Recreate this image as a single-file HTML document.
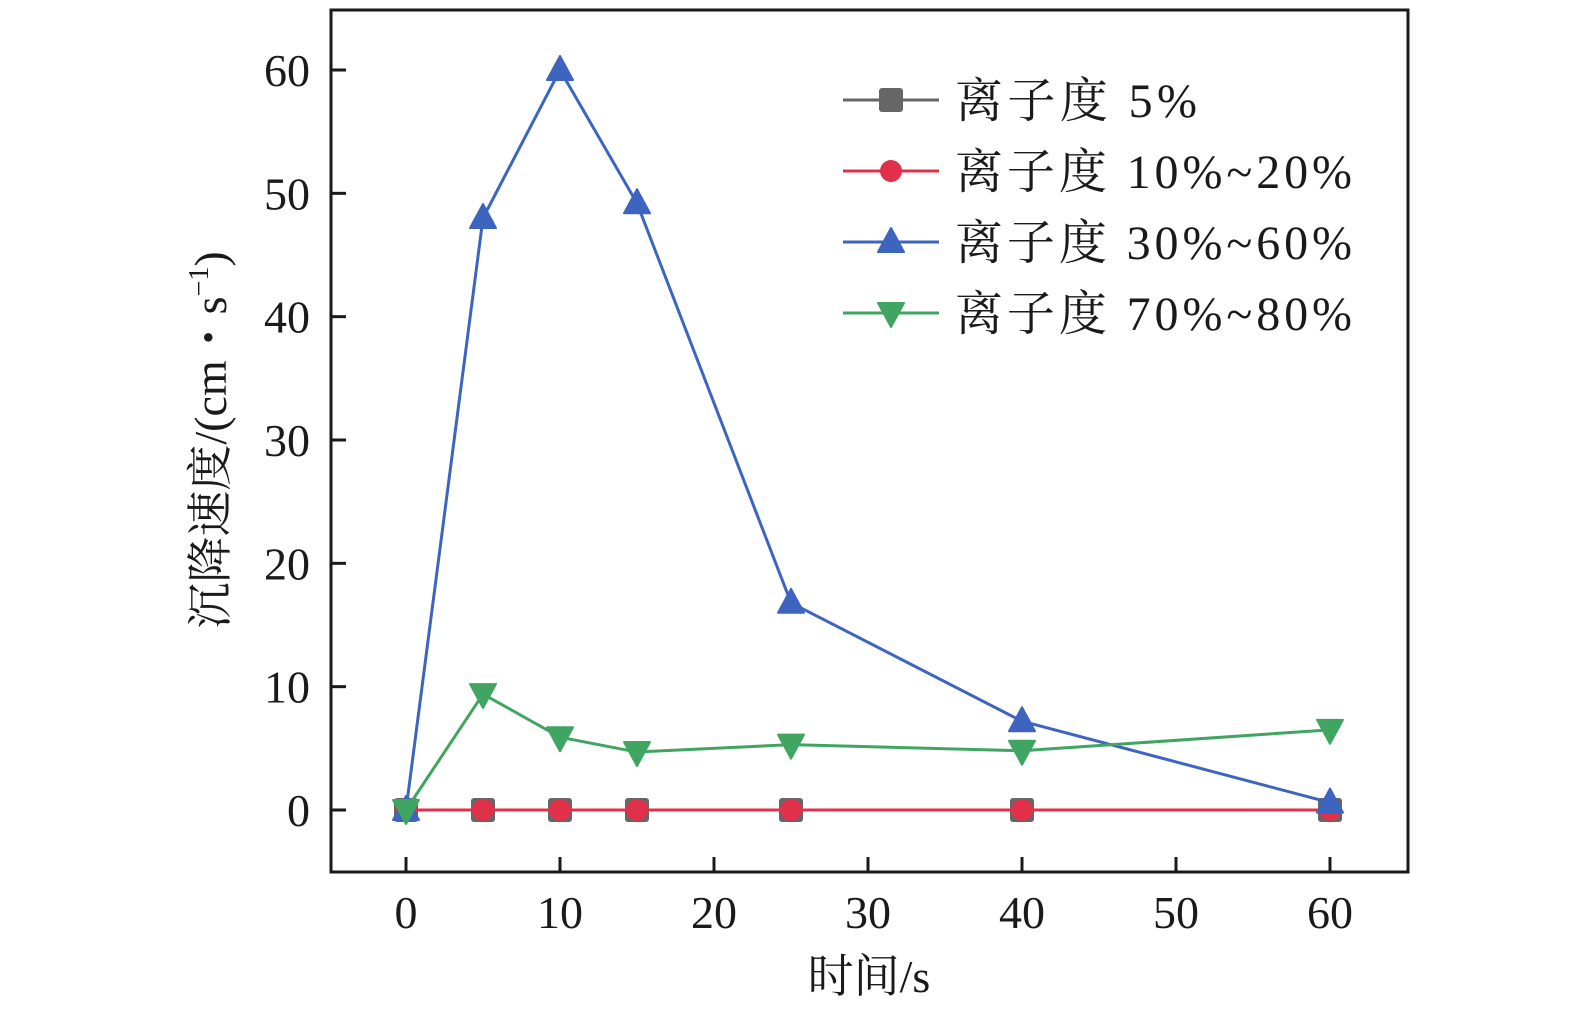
<!DOCTYPE html>
<html><head><meta charset="utf-8">
<style>
html,body{margin:0;padding:0;background:#fff;overflow:hidden;width:1575px;height:1024px;}
svg{display:block;position:absolute;left:0;top:0;}
text{font-family:"Liberation Serif","Times New Roman","Noto Serif CJK SC",serif;fill:#1a1a1a;}
</style></head>
<body>
<svg id="chart" width="1575" height="1024" viewBox="0 0 1575 1024" xmlns="http://www.w3.org/2000/svg">
<g id="plot"></g>
</svg>
<script>
const times = [0, 5, 10, 15, 25, 40, 60];
const seriesNames = ["离子度 5%", "离子度 10%~20%", "离子度 30%~60%", "离子度 70%~80%"];
const s5 = [0, 0, 0, 0, 0, 0, 0];
const s10_20 = [0, 0, 0, 0, 0, 0, 0];
const s30_60 = [0, 48, 60, 49.2, 16.8, 7.2, 0.6];
const s70_80 = [0, 9.4, 5.9, 4.7, 5.3, 4.8, 6.5];
const xTicks = [0, 10, 20, 30, 40, 50, 60];
const yTicks = [0, 10, 20, 30, 40, 50, 60];

const NS = "http://www.w3.org/2000/svg";
const g = document.getElementById("plot");
const L = 331, R = 1408, T = 10, B = 872;
function xs(v){ return 406 + v * (1330 - 406) / 60; }
function ys(v){ return 810 - v * (810 - 70) / 60; }
function el(tag, attrs, parent){
  const e = document.createElementNS(NS, tag);
  for (const k in attrs) e.setAttribute(k, attrs[k]);
  (parent || g).appendChild(e);
  return e;
}
const frame = el("rect", {x:L, y:T, width:R-L, height:B-T, fill:"none", stroke:"#1a1a1a", "stroke-width":3});


xTicks.forEach(v => {
  const t = el("line", {x1:xs(v), x2:xs(v), y1:B, y2:B-15, stroke:"#1a1a1a", "stroke-width":3});
  
  
  const lb = el("text", {x:xs(v), y:928, "font-size":46, "text-anchor":"middle"});
  lb.textContent = v;
  
  
});
yTicks.forEach(v => {
  const t = el("line", {x1:L, x2:L+15, y1:ys(v), y2:ys(v), stroke:"#1a1a1a", "stroke-width":3});
  
  
  const lb = el("text", {x:310, y:ys(v)+16, "font-size":46, "text-anchor":"end"});
  lb.textContent = v;
  
  
});
const xt = el("text", {x:869, y:992, "font-size":46, "text-anchor":"middle"});
xt.textContent = "时间/s";


const yt = el("text", {x:0, y:0, "font-size":46, "text-anchor":"middle", transform:"translate(226,440) rotate(-90)"});
yt.innerHTML = '沉降速度/(cm・s<tspan dy="-18" font-size="28">−1</tspan><tspan dy="18">)</tspan>';



const colors = ["#666666", "#e0304a", "#3d65bf", "#41a562"];
const allSeries = [s5, s10_20, s30_60, s70_80];
function marker(kind, x, y, color, parent){
  let m;
  if (kind === 0) m = el("rect", {x:x-12, y:y-12, width:24, height:24, rx:3, fill:color}, parent);
  else if (kind === 1) m = el("circle", {cx:x, cy:y, r:11, fill:color}, parent);
  else if (kind === 2) m = el("path", {d:`M${x},${y-14} L${x+13},${y+10} L${x-13},${y+10} Z`, fill:color, "stroke-linejoin":"round", stroke:color, "stroke-width":2}, parent);
  else m = el("path", {d:`M${x},${y+14} L${x+13},${y-10} L${x-13},${y-10} Z`, fill:color, "stroke-linejoin":"round", stroke:color, "stroke-width":2}, parent);
  return m;
}
allSeries.forEach((s, i) => {
  const sg = el("g", {});
  
  
  const pts = s.map((v, j) => xs(times[j]) + "," + ys(v)).join(" ");
  const pl = el("polyline", {points:pts, fill:"none", stroke:colors[i], "stroke-width":3}, sg);
  
  
  s.forEach((v, j) => {
    const m = marker(i, xs(times[j]), ys(v), colors[i], sg);
    
    
  });
});
const lg = el("g", {});


seriesNames.forEach((n, i) => {
  const y = 100 + i * 71;
  const eg = el("g", {}, lg);
  
  
  el("line", {x1:843, x2:939, y1:y, y2:y, stroke:colors[i], "stroke-width":3}, eg);
  marker(i, 891, y, colors[i], eg);
  const t = el("text", {x:955, y:y+17, "font-size":48, textLength:(i === 0 ? 242 : 397), lengthAdjust:"spacing"}, eg);
  t.textContent = n;
});
</script>
</body></html>
